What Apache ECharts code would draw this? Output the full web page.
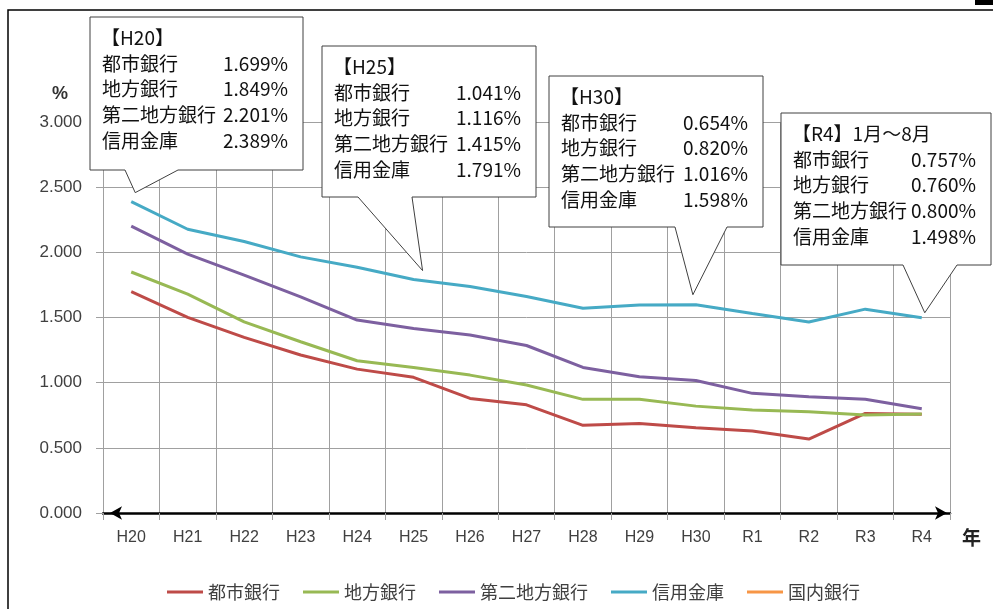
<!DOCTYPE html>
<html><head><meta charset="utf-8">
<script src="https://cdn.jsdelivr.net/npm/echarts@6/dist/echarts.min.js"></script>
<style>html,body{margin:0;padding:0;background:#fff}#c{width:993px;height:609px}</style>
</head><body><div id="c"></div>
<script>
// ---- data ----
const categories = ['H20','H21','H22','H23','H24','H25','H26','H27','H28','H29','H30','R1','R2','R3','R4'];
const toshi   = [1.699,1.501,1.347,1.212,1.104,1.041,0.879,0.830,0.673,0.686,0.654,0.629,0.567,0.764,0.757];
const chiho   = [1.849,1.679,1.467,1.314,1.168,1.116,1.058,0.982,0.872,0.872,0.820,0.790,0.777,0.752,0.760];
const daini   = [2.201,1.986,1.825,1.659,1.480,1.415,1.365,1.285,1.117,1.045,1.016,0.918,0.892,0.872,0.800];
const shinkin = [2.389,2.177,2.083,1.965,1.885,1.791,1.738,1.661,1.571,1.595,1.598,1.530,1.466,1.564,1.498];
const kokunai = [];
const seriesNames = ['都市銀行','地方銀行','第二地方銀行','信用金庫','国内銀行'];
const seriesColors = ['#BE4B48','#98B954','#7D60A0','#46AAC5','#F79646'];
const yMin = 0, yMax = 3, yInterval = 0.5;
const calloutTitles = ['【H20】','【H25】','【H30】','【R4】1月～8月'];
const calloutIdx = [0,5,10,14];

// ---- layout (annotation boxes) ----
const calloutLayout = [
  {box:[90,17,213,153],  base:[125,178], tipOff:[4,-9]},
  {box:[322,46,214,151], base:[358,412], tipOff:[9,-9]},
  {box:[549,76,214,151], base:[675,727], tipOff:[-3,-10]},
  {box:[781,113,210,152],base:[903,957], tipOff:[3,-5]}
];

const allData = [toshi, chiho, daini, shinkin, kokunai];
const CJK = '"Noto Sans CJK JP", "Noto Sans", sans-serif';
const LAT = '"Liberation Sans", Arial, sans-serif';

const chart = echarts.init(document.getElementById('c'), null, {renderer:'canvas'});
const option = {
  animation: false,
  backgroundColor: '#fff',
  grid: {left:103, right:43, top:122, bottom:96},
  legend: {
    data: seriesNames, left: 162, top: 578, icon: 'rect', itemWidth: 36, itemHeight: 3,
    itemGap: 23, textStyle: {fontSize: 18, color: '#404040', fontFamily: CJK}
  },
  xAxis: {
    type: 'category', data: categories, boundaryGap: true,
    name: '年', nameLocation: 'end', nameGap: 12,
    nameTextStyle: {fontSize: 19, fontWeight: 'bold', color: '#222', fontFamily: CJK, verticalAlign: 'top', padding: [15,0,0,0]},
    axisLine: {show: true, lineStyle: {color: '#000', width: 2.5}, symbol: ['arrow','arrow'], symbolSize: [10,12], symbolOffset:[7,-3]},
    axisTick: {show: true, interval: 0, length: 7, lineStyle: {color: '#a0a0a0'}},
    axisLabel: {interval: 0, margin: 17, fontSize: 16, color: '#404040', fontFamily: LAT},
    splitLine: {show: true, interval: 0, lineStyle: {color: '#a0a0a0', width: 1}}
  },
  yAxis: {
    type: 'value', min: yMin, max: yMax, interval: yInterval,
    name: '%', nameLocation: 'end', nameGap: 19,
    nameTextStyle: {fontSize: 18, fontWeight: 'bold', color: '#333', fontFamily: LAT, align: 'center', padding: [0,86,0,0]},
    axisLine: {show: false},
    axisTick: {show: true, length: 7, lineStyle: {color: '#a0a0a0'}},
    axisLabel: {margin: 21, fontSize: 17, color: '#404040', fontFamily: LAT, formatter: v => v.toFixed(3)},
    splitLine: {show: true, lineStyle: {color: '#a0a0a0', width: 1}}
  },
  series: seriesNames.map((n, i) => ({
    name: n, type: 'line', data: allData[i], symbol: 'none', smooth: false,
    lineStyle: {width: 3, color: seriesColors[i]}, itemStyle: {color: seriesColors[i]},
    emphasis: {disabled: true}, z: 2
  }))
};
chart.setOption(option);

// ---- callouts ----
const g = [];
g.push({type:'rect', shape:{x:8,y:10,width:1000,height:620}, style:{fill:'none', stroke:'#000', lineWidth:1.5}, z:50, silent:true});
g.push({type:'rect', shape:{x:975,y:0,width:18,height:5}, style:{fill:'#000'}, z:50, silent:true});
calloutLayout.forEach((L, k) => {
  const idx = calloutIdx[k];
  const p = chart.convertToPixel({gridIndex:0}, [idx, shinkin[idx]]);
  const tip = [p[0] + L.tipOff[0], p[1] + L.tipOff[1]];
  const [x, y, w, h] = L.box;
  const b = y + h;
  g.push({type:'polygon', z:100, silent:true,
    shape:{points:[[x,y],[x+w,y],[x+w,b],[L.base[1],b],tip,[L.base[0],b],[x,b]]},
    style:{fill:'#fff', stroke:'#404040', lineWidth:1}});
  const font = '19px ' + CJK;
  g.push({type:'text', z:101, silent:true, x:x+11, y:y+21,
    style:{text:calloutTitles[k], font:font, fill:'#111', align:'left', verticalAlign:'middle'}});
  for (let s = 0; s < 4; s++) {
    const ty = y + 46.5 + s*25.7;
    g.push({type:'text', z:101, silent:true, x:x+12, y:ty,
      style:{text:seriesNames[s], font:font, fill:'#111', align:'left', verticalAlign:'middle'}});
    g.push({type:'text', z:101, silent:true, x:x+w-15, y:ty,
      style:{text:allData[s][idx].toFixed(3)+'%', font:font, fill:'#111', align:'right', verticalAlign:'middle'}});
  }
});
chart.setOption({graphic: g});
</script></body></html>
